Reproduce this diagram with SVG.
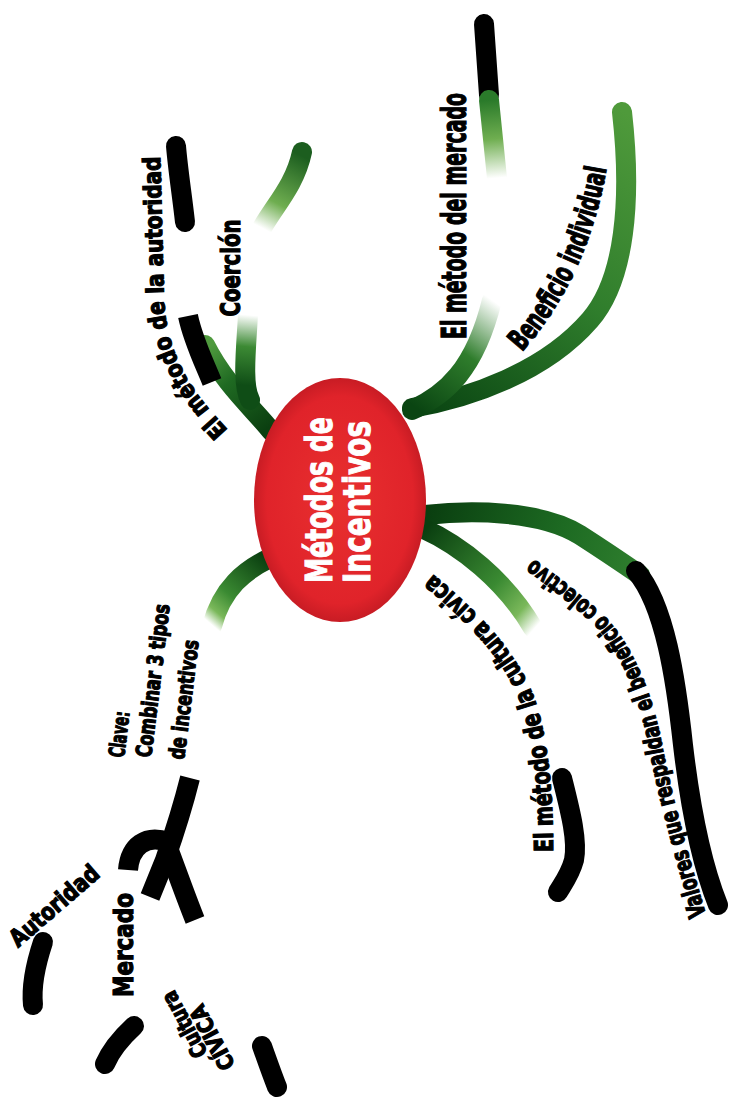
<svg xmlns="http://www.w3.org/2000/svg" width="730" height="1104" viewBox="0 0 730 1104">
<style>
.lbl{font-family:"Liberation Sans Narrow","DejaVu Sans Condensed","Liberation Sans",sans-serif;font-weight:700;fill:#000;stroke:#000;stroke-width:1.2}
.ctr{font-family:"Liberation Sans Narrow","DejaVu Sans Condensed","Liberation Sans",sans-serif;font-weight:700;fill:#fff;stroke:#fff;stroke-width:1}
.br{fill:none;stroke-linecap:round;stroke-width:20}
.bk{fill:none;stroke:#000;stroke-width:20}
</style>
<defs>
<radialGradient id="red" cx="0.5" cy="0.5" r="0.5">
<stop offset="0" stop-color="#e8302f"/><stop offset="0.85" stop-color="#e0232a"/><stop offset="1" stop-color="#c81c24"/>
</radialGradient>
<linearGradient id="gCoerLow" gradientUnits="userSpaceOnUse" x1="242" y1="385" x2="248" y2="315">
<stop offset="0" stop-color="#0f4d16"/><stop offset="0.55" stop-color="#3c8a34"/><stop offset="1" stop-color="#ffffff"/>
</linearGradient>
<linearGradient id="gCoerUp" gradientUnits="userSpaceOnUse" x1="262" y1="228" x2="300" y2="155">
<stop offset="0" stop-color="#ffffff"/><stop offset="0.35" stop-color="#6fae50"/><stop offset="1" stop-color="#1c5e1f"/>
</linearGradient>
<linearGradient id="gAut" gradientUnits="userSpaceOnUse" x1="268" y1="428" x2="205" y2="350">
<stop offset="0" stop-color="#0b3f10"/><stop offset="0.6" stop-color="#1f6a22"/><stop offset="1" stop-color="#4f9a3e"/>
</linearGradient>
<linearGradient id="gBen" gradientUnits="userSpaceOnUse" x1="415" y1="405" x2="622" y2="110">
<stop offset="0" stop-color="#0a4512"/><stop offset="0.5" stop-color="#2f7d2c"/><stop offset="1" stop-color="#4f9a3b"/>
</linearGradient>
<linearGradient id="gMerLow" gradientUnits="userSpaceOnUse" x1="415" y1="407" x2="492" y2="300">
<stop offset="0" stop-color="#0a4512"/><stop offset="0.55" stop-color="#2f7d2c"/><stop offset="1" stop-color="#ffffff"/>
</linearGradient>
<linearGradient id="gMerUp" gradientUnits="userSpaceOnUse" x1="490" y1="100" x2="497" y2="178">
<stop offset="0" stop-color="#2a7a2a"/><stop offset="0.5" stop-color="#6fae50"/><stop offset="1" stop-color="#ffffff"/>
</linearGradient>
<linearGradient id="gCol" gradientUnits="userSpaceOnUse" x1="428" y1="515" x2="640" y2="575">
<stop offset="0" stop-color="#0a3f10"/><stop offset="0.6" stop-color="#1d6a22"/><stop offset="1" stop-color="#2f7f2e"/>
</linearGradient>
<linearGradient id="gCiv" gradientUnits="userSpaceOnUse" x1="425" y1="530" x2="535" y2="628">
<stop offset="0" stop-color="#0a3f10"/><stop offset="0.6" stop-color="#3a8a32"/><stop offset="0.85" stop-color="#7ab85a"/><stop offset="1" stop-color="#ffffff"/>
</linearGradient>
<linearGradient id="gKey" gradientUnits="userSpaceOnUse" x1="268" y1="560" x2="212" y2="625">
<stop offset="0" stop-color="#0a3f10"/><stop offset="0.6" stop-color="#3a8a32"/><stop offset="0.85" stop-color="#7ab85a"/><stop offset="1" stop-color="#ffffff"/>
</linearGradient>
<path id="pAut" d="M 228 430 C 200 400, 168 365, 164 300 L 160 150"/>
<path id="pBen" d="M 522 352 Q 590 275 608 160"/>
<path id="pCiv" d="M 553 852 C 553 790, 548 740, 535 700 C 520 660, 490 620, 425 568"/>
<path id="pVal" d="M 706 915 C 690 860, 672 800, 662 745 C 652 690, 630 640, 600 612 C 575 590, 550 570, 518 548"/>
</defs>
<rect width="730" height="1104" fill="#fff"/>
<g id="connectors">
<path class="br" stroke="url(#gAut)" d="M 272 432 C 255 410, 225 385, 205 345"/>
<path class="br" stroke="url(#gCoerLow)" stroke-linecap="butt" d="M 250 400 C 242 385, 246 350, 248 315"/>
<path class="br" stroke="url(#gCoerUp)" stroke-width="16" d="M 262 228 C 275 205, 295 185, 302 152"/>
<path class="bk" stroke-width="18" d="M 212 382 C 203 360, 193 340, 188 316"/>
<path class="bk" stroke-width="22" stroke-linecap="round" d="M 176 146 C 178 170, 182 195, 185 222"/>
<path class="br" stroke="url(#gBen)" d="M 412 408 C 470 398, 545 372, 590 320 C 625 280, 632 200, 622 112"/>
<path class="br" stroke="url(#gMerLow)" stroke-linecap="butt" d="M 412 410 C 445 395, 475 370, 492 300"/>
<path class="bk" stroke-width="22" stroke-linecap="round" d="M 484 24 L 489 95"/>
<path class="br" stroke="url(#gMerUp)" stroke-width="22" stroke-linecap="butt" d="M 489 100 L 497 178"/>
<path class="br" stroke="url(#gCol)" stroke-linecap="butt" d="M 425 515 C 470 510, 540 510, 580 535 C 608 553, 624 564, 640 575"/>
<path class="bk" stroke-linecap="round" d="M 636 571 C 665 605, 676 680, 683 745 C 690 805, 700 860, 718 905"/>
<path class="br" stroke="url(#gCiv)" stroke-linecap="butt" d="M 422 528 C 460 545, 505 580, 533 628"/>
<path class="bk" stroke-width="19" stroke-linecap="round" d="M 562 778 C 570 810, 578 840, 574 860 C 570 875, 562 885, 558 892"/>
<path class="br" stroke="url(#gKey)" stroke-linecap="butt" d="M 270 558 C 245 570, 222 588, 212 626"/>
<path class="bk" stroke-width="18" d="M 190 778 C 182 810, 172 840, 165 860 L 150 897"/>
<path class="bk" stroke-width="18" d="M 168 848 C 177 872, 185 895, 195 920"/>
<path class="bk" stroke-width="15" d="M 128 870 C 130 846, 146 834, 168 842"/>
<path class="bk" stroke-width="18" stroke-linecap="round" d="M 43 942 C 36 963, 31 985, 33 1005"/>
<path class="bk" stroke-width="18" stroke-linecap="round" d="M 134 1026 C 121 1038, 111 1050, 105 1064"/>
<path class="bk" stroke-width="18" stroke-linecap="round" d="M 262 1046 C 268 1063, 273 1077, 277 1087"/>
</g>
<g id="center">
<ellipse cx="340" cy="500" rx="86" ry="122" fill="url(#red)"/>
<text class="ctr" font-size="38" text-anchor="middle" textLength="166" lengthAdjust="spacingAndGlyphs" transform="translate(332,500) rotate(-90)">Métodos de</text>
<text class="ctr" font-size="38" text-anchor="middle" textLength="162" lengthAdjust="spacingAndGlyphs" transform="translate(370,502) rotate(-90)">Incentivos</text>
</g>
<g id="n-coercion">
<text class="lbl" font-size="26" text-anchor="middle" textLength="97" lengthAdjust="spacingAndGlyphs" transform="translate(240,268) rotate(-90)">Coerción</text>
</g>
<g id="n-autoridad">
<text class="lbl" font-size="24"><textPath href="#pAut" textLength="292" lengthAdjust="spacingAndGlyphs">El método de la autoridad</textPath></text>
</g>
<g id="n-mercado">
<text class="lbl" font-size="34" text-anchor="middle" textLength="397" lengthAdjust="spacingAndGlyphs" transform="translate(466,216) rotate(-90) scale(0.62,1)">El método del mercado</text>
</g>
<g id="n-beneficio">
<text class="lbl" font-size="30"><textPath href="#pBen" textLength="205" lengthAdjust="spacingAndGlyphs">Beneficio individual</textPath></text>
</g>
<g id="n-civica">
<text class="lbl" font-size="26"><textPath href="#pCiv" textLength="318" lengthAdjust="spacingAndGlyphs">El método de la cultura cívica</textPath></text>
</g>
<g id="n-valores">
<text class="lbl" font-size="24"><textPath href="#pVal" textLength="410" lengthAdjust="spacingAndGlyphs">Valores que respaldan el beneficio colectivo</textPath></text>
</g>
<g id="n-clave">
<text class="lbl" font-size="22" textLength="46" lengthAdjust="spacingAndGlyphs" transform="translate(124,758) rotate(-83)">Clave:</text>
<text class="lbl" font-size="22" textLength="154" lengthAdjust="spacingAndGlyphs" transform="translate(151,758) rotate(-83)">Combinar 3 tipos</text>
<text class="lbl" font-size="22" textLength="120" lengthAdjust="spacingAndGlyphs" transform="translate(184,760) rotate(-83)">de incentivos</text>
</g>
<g id="n-autoridad2">
<text class="lbl" font-size="24" textLength="110" lengthAdjust="spacingAndGlyphs" transform="translate(18,948) rotate(-41)">Autoridad</text>
</g>
<g id="n-mercado2">
<text class="lbl" font-size="26" text-anchor="middle" textLength="104" lengthAdjust="spacingAndGlyphs" transform="translate(133,945) rotate(-90)">Mercado</text>
</g>
<g id="n-cultura">
<text class="lbl" font-size="22" text-anchor="middle" textLength="72" lengthAdjust="spacingAndGlyphs" transform="translate(191,1021) rotate(-118)">Cultura</text>
<text class="lbl" font-size="22" text-anchor="middle" textLength="70" lengthAdjust="spacingAndGlyphs" transform="translate(219,1034) rotate(-118)">CÍVICA</text>
</g>
</svg>
